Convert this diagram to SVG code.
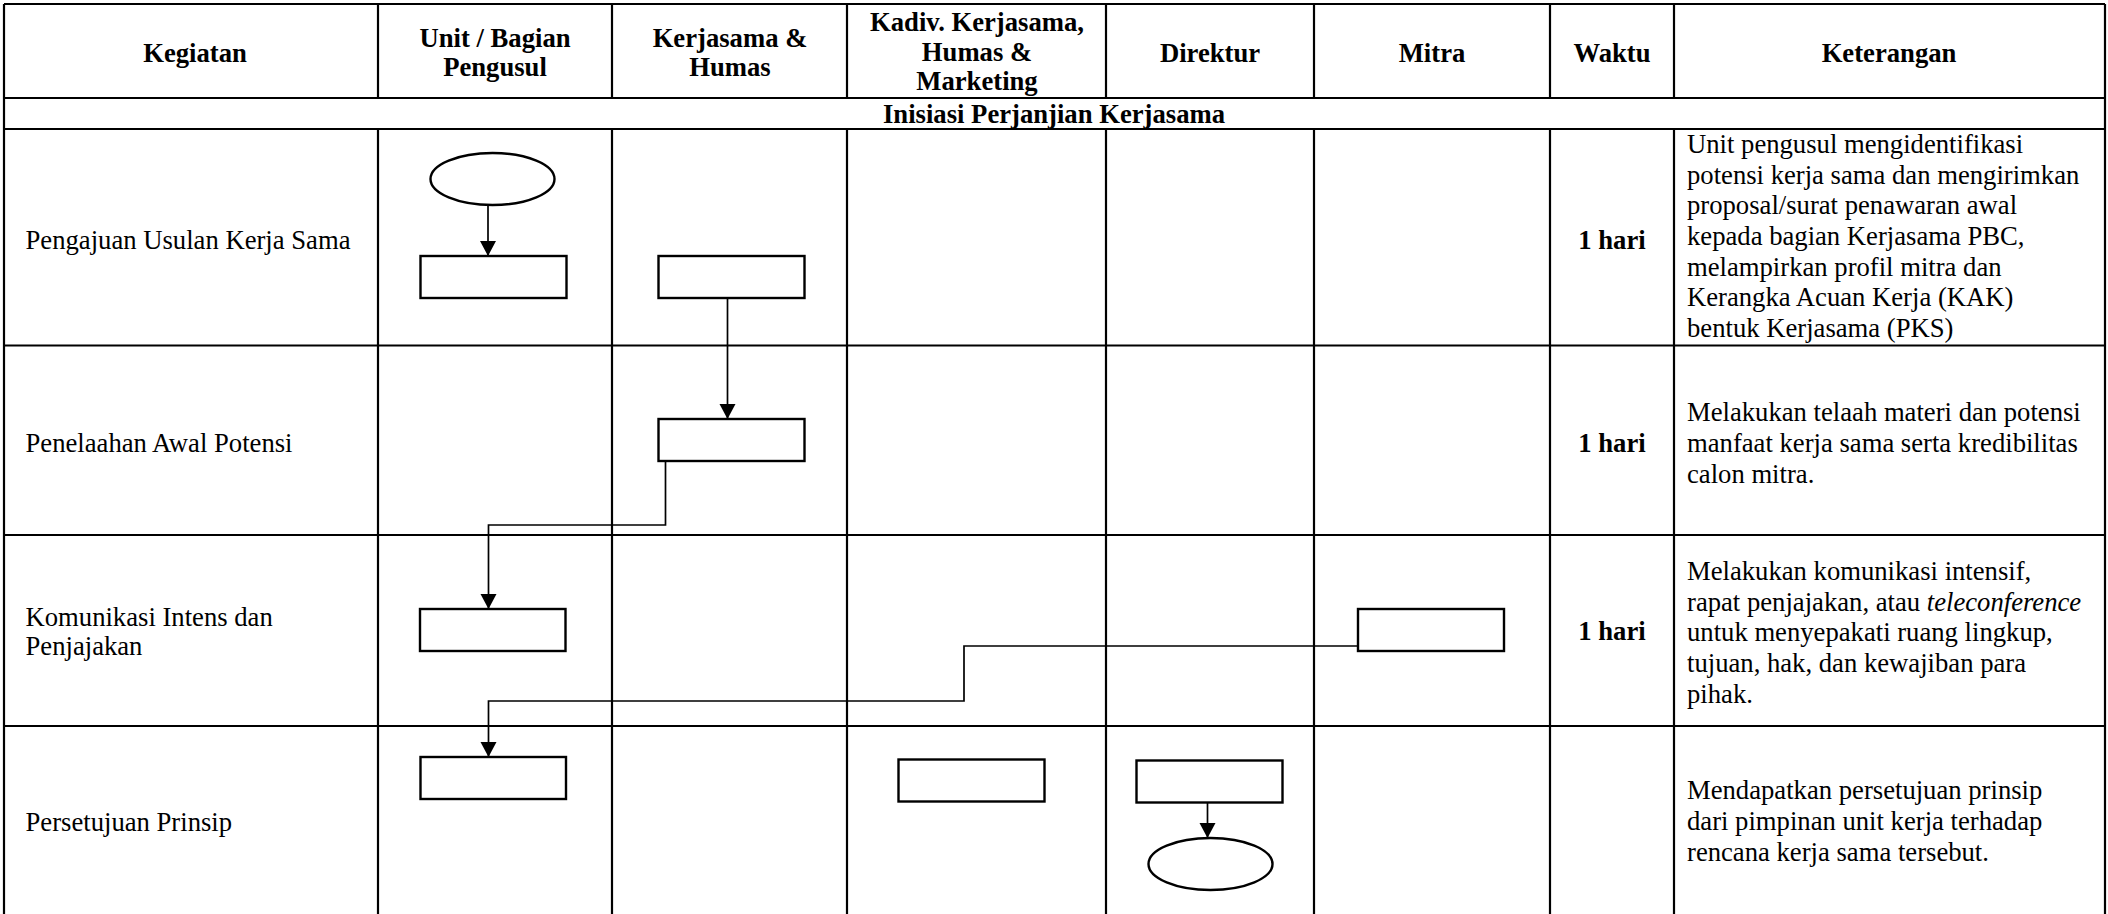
<svg xmlns="http://www.w3.org/2000/svg" width="2108" height="914" viewBox="0 0 2108 914">
<style>
.grid{stroke:#000;stroke-width:2.2;fill:none}
.shape{stroke:#000;stroke-width:2.4;fill:#fff}
.conn{stroke:#000;stroke-width:1.7;fill:none}
.h{font-family:"Liberation Serif","Times New Roman",serif;font-size:26.67px;font-weight:bold;fill:#000;text-anchor:middle}
.t{font-family:"Liberation Serif","Times New Roman",serif;font-size:26.67px;fill:#000}
.w{font-family:"Liberation Serif","Times New Roman",serif;font-size:26.67px;font-weight:bold;fill:#000;text-anchor:middle}
</style>
<defs>
<marker id="arr" markerUnits="userSpaceOnUse" markerWidth="17" markerHeight="18" refX="15" refY="9" orient="auto">
<path d="M0,1 L15,9 L0,17 z" fill="#000"/>
</marker>
</defs>
<rect width="2108" height="914" fill="#fff"/>
<g id="table" class="grid">
<line x1="4" y1="4" x2="2105" y2="4"/>
<line x1="4" y1="98" x2="2105" y2="98"/>
<line x1="4" y1="129" x2="2105" y2="129"/>
<line x1="4" y1="345.5" x2="2105" y2="345.5"/>
<line x1="4" y1="535" x2="2105" y2="535"/>
<line x1="4" y1="726" x2="2105" y2="726"/>
<line x1="4" y1="4" x2="4" y2="914"/>
<line x1="2105" y1="4" x2="2105" y2="914"/>
<line x1="378" y1="4" x2="378" y2="98"/><line x1="378" y1="129" x2="378" y2="914"/>
<line x1="612" y1="4" x2="612" y2="98"/><line x1="612" y1="129" x2="612" y2="914"/>
<line x1="847" y1="4" x2="847" y2="98"/><line x1="847" y1="129" x2="847" y2="914"/>
<line x1="1106" y1="4" x2="1106" y2="98"/><line x1="1106" y1="129" x2="1106" y2="914"/>
<line x1="1314" y1="4" x2="1314" y2="98"/><line x1="1314" y1="129" x2="1314" y2="914"/>
<line x1="1550" y1="4" x2="1550" y2="98"/><line x1="1550" y1="129" x2="1550" y2="914"/>
<line x1="1674" y1="4" x2="1674" y2="98"/><line x1="1674" y1="129" x2="1674" y2="914"/>
</g>
<g id="headers">
<text class="h" x="195" y="62">Kegiatan</text>
<text class="h" x="495" y="47">Unit / Bagian</text>
<text class="h" x="495" y="76">Pengusul</text>
<text class="h" x="730" y="47">Kerjasama &amp;</text>
<text class="h" x="730" y="76">Humas</text>
<text class="h" x="977" y="31">Kadiv. Kerjasama,</text>
<text class="h" x="977" y="61">Humas &amp;</text>
<text class="h" x="977" y="90">Marketing</text>
<text class="h" x="1210" y="62">Direktur</text>
<text class="h" x="1432" y="62">Mitra</text>
<text class="h" x="1612" y="62">Waktu</text>
<text class="h" x="1889" y="62">Keterangan</text>
<text class="h" x="1054" y="123">Inisiasi Perjanjian Kerjasama</text>
</g>
<g id="row1-text">
<text class="t" x="25.5" y="249">Pengajuan Usulan Kerja Sama</text>
<text class="w" x="1612" y="249">1 hari</text>
<text class="t" x="1687" y="153">Unit pengusul mengidentifikasi</text>
<text class="t" x="1687" y="183.7">potensi kerja sama dan mengirimkan</text>
<text class="t" x="1687" y="214.3">proposal/surat penawaran awal</text>
<text class="t" x="1687" y="245">kepada bagian Kerjasama PBC,</text>
<text class="t" x="1687" y="275.7">melampirkan profil mitra dan</text>
<text class="t" x="1687" y="306.3">Kerangka Acuan Kerja (KAK)</text>
<text class="t" x="1687" y="337">bentuk Kerjasama (PKS)</text>
</g>
<g id="row2-text">
<text class="t" x="25.5" y="452">Penelaahan Awal Potensi</text>
<text class="w" x="1612" y="452">1 hari</text>
<text class="t" x="1687" y="421">Melakukan telaah materi dan potensi</text>
<text class="t" x="1687" y="452">manfaat kerja sama serta kredibilitas</text>
<text class="t" x="1687" y="483">calon mitra.</text>
</g>
<g id="row3-text">
<text class="t" x="25.5" y="626">Komunikasi Intens dan</text>
<text class="t" x="25.5" y="655">Penjajakan</text>
<text class="w" x="1612" y="640">1 hari</text>
<text class="t" x="1687" y="580">Melakukan komunikasi intensif,</text>
<text class="t" x="1687" y="610.7">rapat penjajakan, atau <tspan font-style="italic">teleconference</tspan></text>
<text class="t" x="1687" y="641.3">untuk menyepakati ruang lingkup,</text>
<text class="t" x="1687" y="672">tujuan, hak, dan kewajiban para</text>
<text class="t" x="1687" y="702.7">pihak.</text>
</g>
<g id="row4-text">
<text class="t" x="25.5" y="831">Persetujuan Prinsip</text>
<text class="t" x="1687" y="799">Mendapatkan persetujuan prinsip</text>
<text class="t" x="1687" y="830">dari pimpinan unit kerja terhadap</text>
<text class="t" x="1687" y="861">rencana kerja sama tersebut.</text>
</g>
<g id="connectors">
<line class="conn" x1="488" y1="205" x2="488" y2="256" marker-end="url(#arr)"/>
<line class="conn" x1="727.5" y1="298" x2="727.5" y2="419" marker-end="url(#arr)"/>
<polyline class="conn" points="665.5,461 665.5,525 488.5,525 488.5,609" marker-end="url(#arr)"/>
<polyline class="conn" points="1358,646 964,646 964,701 488.5,701 488.5,757" marker-end="url(#arr)"/>
<line class="conn" x1="1207.5" y1="802" x2="1207.5" y2="838" marker-end="url(#arr)"/>
</g>
<g id="n-start"><ellipse class="shape" cx="492.5" cy="179" rx="62" ry="26"/></g>
<g id="n-unit1"><rect class="shape" x="420.5" y="256" width="146" height="42"/></g>
<g id="n-humas1"><rect class="shape" x="658.5" y="256" width="146" height="42"/></g>
<g id="n-humas2"><rect class="shape" x="658.5" y="419" width="146" height="42"/></g>
<g id="n-unit3"><rect class="shape" x="420" y="609" width="145.5" height="42"/></g>
<g id="n-mitra3"><rect class="shape" x="1358" y="609" width="146" height="42"/></g>
<g id="n-unit4"><rect class="shape" x="420.5" y="757" width="145.5" height="42"/></g>
<g id="n-kadiv4"><rect class="shape" x="898.5" y="759.5" width="146" height="42"/></g>
<g id="n-direktur4"><rect class="shape" x="1136.5" y="760.5" width="146" height="42"/></g>
<g id="n-end"><ellipse class="shape" cx="1210.5" cy="864" rx="62" ry="26"/></g>
</svg>
